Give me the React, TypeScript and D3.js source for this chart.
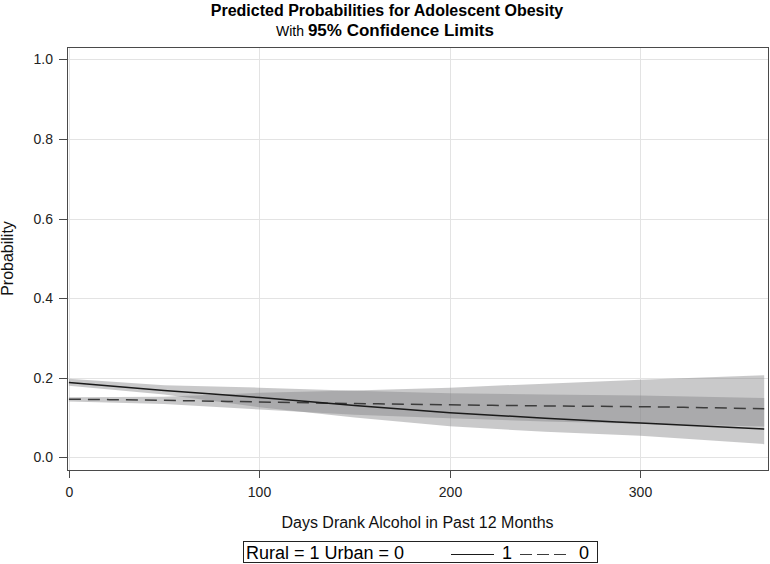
import React, { useRef, useEffect } from 'react';
import * as d3 from 'd3';

const days = [0, 50, 100, 150, 200, 250, 300, 365];

// Rural = 1 (solid)
const ruralProb = [0.188, 0.168, 0.15, 0.13, 0.112, 0.098, 0.086, 0.071];
const ruralLower = [0.18, 0.158, 0.126, 0.1, 0.078, 0.064, 0.054, 0.033];
const ruralUpper = [0.197, 0.181, 0.175, 0.167, 0.161, 0.158, 0.155, 0.149];

// Urban = 0 (dashed)
const urbanProb = [0.146, 0.143, 0.139, 0.135, 0.132, 0.129, 0.127, 0.122];
const urbanLower = [0.14, 0.134, 0.12, 0.107, 0.098, 0.09, 0.084, 0.077];
const urbanUpper = [0.151, 0.152, 0.162, 0.168, 0.175, 0.185, 0.195, 0.206];

const yTicks = [0, 0.2, 0.4, 0.6, 0.8, 1.0];
const xTicks = [0, 100, 200, 300];

const App = () => {
  const svgRef = useRef(null);

  useEffect(() => {
    const svg = d3.select(svgRef.current);
    svg.selectAll('*').remove();

    const width = 770;
    const height = 564;
    const left = 67, right = 768, top = 47, bottom = 470;
    const font = 'Arial, "Liberation Sans", sans-serif';

    const x = d3.scaleLinear().domain([-1, 367]).range([left, right]);
    const y = d3.scaleLinear().domain([-0.032, 1.031]).range([bottom, top]);

    svg.attr('width', width).attr('height', height).style('font-family', font);

    svg.append('rect').attr('width', width).attr('height', height).attr('fill', 'white');

    // grid
    const grid = svg.append('g').attr('stroke', '#e3e3e3').attr('stroke-width', 1);
    yTicks.forEach(t => {
      grid.append('line')
        .attr('x1', left).attr('x2', right)
        .attr('y1', Math.round(y(t)) + 0.5).attr('y2', Math.round(y(t)) + 0.5);
    });
    xTicks.forEach(t => {
      grid.append('line')
        .attr('y1', top).attr('y2', bottom)
        .attr('x1', Math.round(x(t)) + 0.5).attr('x2', Math.round(x(t)) + 0.5);
    });

    const idx = d3.range(days.length);

    const band = (lo, hi) => d3.area()
      .x(i => x(days[i]))
      .y0(i => y(lo[i]))
      .y1(i => y(hi[i]));

    svg.append('path')
      .datum(idx)
      .attr('d', band(ruralLower, ruralUpper))
      .attr('fill', '#818184')
      .attr('fill-opacity', 0.43);

    svg.append('path')
      .datum(idx)
      .attr('d', band(urbanLower, urbanUpper))
      .attr('fill', '#818184')
      .attr('fill-opacity', 0.43);

    const line = (vals) => d3.line()
      .x(i => x(days[i]))
      .y(i => y(vals[i]))
      .curve(d3.curveMonotoneX);

    svg.append('path')
      .datum(idx)
      .attr('d', line(urbanProb))
      .attr('fill', 'none')
      .attr('stroke', '#3c3c3c')
      .attr('stroke-width', 1.5)
      .attr('stroke-dasharray', '12,7');

    svg.append('path')
      .datum(idx)
      .attr('d', line(ruralProb))
      .attr('fill', 'none')
      .attr('stroke', '#1a1a1a')
      .attr('stroke-width', 1.5);

    // frame
    svg.append('rect')
      .attr('x', left + 0.5).attr('y', top + 0.5)
      .attr('width', right - left).attr('height', bottom - top)
      .attr('fill', 'none')
      .attr('stroke', '#4a4a4a')
      .attr('stroke-width', 1);

    // y axis
    const yAx = svg.append('g');
    yTicks.forEach(t => {
      const yy = Math.round(y(t)) + 0.5;
      yAx.append('line').attr('x1', left - 8).attr('x2', left).attr('y1', yy).attr('y2', yy)
        .attr('stroke', '#4a4a4a');
      yAx.append('text')
        .attr('x', 53).attr('y', yy).attr('dy', '0.35em')
        .attr('text-anchor', 'end')
        .style('font-size', '14px').attr('fill', '#222')
        .text(d3.format('.1f')(t));
    });

    // x axis
    const xAx = svg.append('g');
    xTicks.forEach(t => {
      const xx = Math.round(x(t)) + 0.5;
      xAx.append('line').attr('x1', xx).attr('x2', xx).attr('y1', bottom).attr('y2', bottom + 8)
        .attr('stroke', '#4a4a4a');
      xAx.append('text')
        .attr('x', xx).attr('y', 497)
        .attr('text-anchor', 'middle')
        .style('font-size', '14px').attr('fill', '#222')
        .text(t);
    });

    svg.append('text')
      .attr('x', (left + right) / 2).attr('y', 528)
      .attr('text-anchor', 'middle')
      .style('font-size', '16px').attr('fill', '#111')
      .text('Days Drank Alcohol in Past 12 Months');

    svg.append('text')
      .attr('transform', `translate(13,${(top + bottom) / 2}) rotate(-90)`)
      .attr('text-anchor', 'middle')
      .style('font-size', '16px').attr('fill', '#111')
      .text('Probability');

    // title
    svg.append('text')
      .attr('x', 387).attr('y', 16)
      .attr('text-anchor', 'middle')
      .style('font-size', '16px').style('font-weight', 'bold')
      .text('Predicted Probabilities for Adolescent Obesity');

    const sub = svg.append('text')
      .attr('x', 385).attr('y', 36)
      .attr('text-anchor', 'middle');
    sub.append('tspan').style('font-size', '14px').text('With ');
    sub.append('tspan').style('font-size', '17px').style('font-weight', 'bold').text('95% Confidence Limits');

    // legend
    const lg = svg.append('g');
    lg.append('rect')
      .attr('x', 243.5).attr('y', 541.5).attr('width', 354).attr('height', 21)
      .attr('fill', 'white').attr('stroke', '#222');
    lg.append('text').attr('x', 246).attr('y', 559).style('font-size', '18px')
      .text('Rural = 1 Urban = 0');
    lg.append('line').attr('x1', 451).attr('x2', 494).attr('y1', 554.5).attr('y2', 554.5)
      .attr('stroke', '#1a1a1a').attr('stroke-width', 1.2);
    lg.append('text').attr('x', 507).attr('y', 559).attr('text-anchor', 'middle')
      .style('font-size', '18px').text('1');
    lg.append('line').attr('x1', 520).attr('x2', 568).attr('y1', 554.5).attr('y2', 554.5)
      .attr('stroke', '#3c3c3c').attr('stroke-width', 1.2).attr('stroke-dasharray', '12,5');
    lg.append('text').attr('x', 584).attr('y', 559).attr('text-anchor', 'middle')
      .style('font-size', '18px').text('0');
  }, []);

  return (
    <svg ref={svgRef} style={{ position: 'absolute', left: 0, top: 0, display: 'block' }} />
  );
};

export default App;
